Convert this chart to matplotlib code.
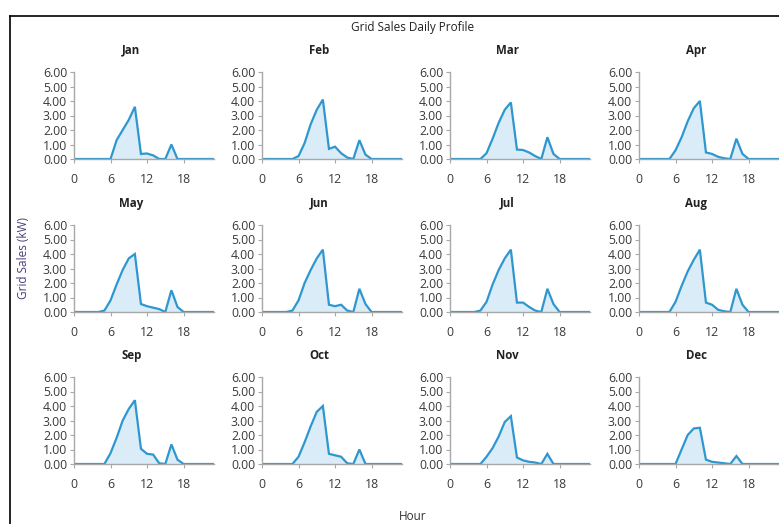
import matplotlib
matplotlib.use("Agg")
from matplotlib import pyplot as plt
from matplotlib.lines import Line2D

plt.rcParams['font.family'] = ['Open Sans', 'DejaVu Sans']

# hourly grid sales (kW), hours 0..23
hours = list(range(24))
months = ["Jan", "Feb", "Mar", "Apr", "May", "Jun",
          "Jul", "Aug", "Sep", "Oct", "Nov", "Dec"]

jan = [0, 0, 0, 0, 0, 0, 0, 1.3, 2.0, 2.7, 3.6, 0.35, 0.38, 0.25, 0, 0, 1.0, 0, 0, 0, 0, 0, 0, 0]
feb = [0, 0, 0, 0, 0, 0, 0.2, 1.1, 2.4, 3.4, 4.1, 0.7, 0.85, 0.4, 0.1, 0, 1.3, 0.3, 0, 0, 0, 0, 0, 0]
mar = [0, 0, 0, 0, 0, 0, 0.4, 1.4, 2.5, 3.4, 3.9, 0.65, 0.62, 0.45, 0.2, 0, 1.5, 0.35, 0, 0, 0, 0, 0, 0]
apr = [0, 0, 0, 0, 0, 0, 0.6, 1.5, 2.6, 3.5, 4.0, 0.45, 0.35, 0.15, 0.05, 0, 1.4, 0.35, 0, 0, 0, 0, 0, 0]
may = [0, 0, 0, 0, 0, 0.1, 0.8, 1.9, 2.9, 3.7, 4.0, 0.55, 0.4, 0.3, 0.2, 0, 1.5, 0.35, 0, 0, 0, 0, 0, 0]
jun = [0, 0, 0, 0, 0, 0.1, 0.8, 2.0, 2.9, 3.7, 4.3, 0.5, 0.4, 0.5, 0.1, 0, 1.6, 0.55, 0, 0, 0, 0, 0, 0]
jul = [0, 0, 0, 0, 0, 0.1, 0.7, 1.9, 2.9, 3.7, 4.3, 0.65, 0.65, 0.35, 0.1, 0, 1.6, 0.55, 0, 0, 0, 0, 0, 0]
aug = [0, 0, 0, 0, 0, 0, 0.7, 1.8, 2.8, 3.6, 4.3, 0.65, 0.5, 0.15, 0.05, 0, 1.6, 0.5, 0, 0, 0, 0, 0, 0]
sep = [0, 0, 0, 0, 0, 0, 0.75, 1.8, 3.0, 3.8, 4.4, 1.05, 0.7, 0.65, 0.05, 0, 1.35, 0.3, 0, 0, 0, 0, 0, 0]
oct_ = [0, 0, 0, 0, 0, 0, 0.5, 1.5, 2.6, 3.6, 4.0, 0.7, 0.6, 0.5, 0.05, 0, 1.0, 0, 0, 0, 0, 0, 0, 0]
nov = [0, 0, 0, 0, 0, 0, 0.5, 1.1, 1.9, 2.9, 3.3, 0.45, 0.25, 0.15, 0.1, 0, 0.7, 0, 0, 0, 0, 0, 0, 0]
dec = [0, 0, 0, 0, 0, 0, 0, 1.0, 2.0, 2.45, 2.5, 0.3, 0.15, 0.1, 0.05, 0, 0.55, 0, 0, 0, 0, 0, 0, 0]
profiles = [jan, feb, mar, apr, may, jun, jul, aug, sep, oct_, nov, dec]

x_ticks = [0, 6, 12, 18]
y_ticks = [0, 1, 2, 3, 4, 5, 6]

line_col = '#2F97CF'
fill_col = '#D9ECF7'
axis_col = '#A8A8A8'
text_col = '#3A3A3A'

W, H = 779, 524
fig = plt.figure(figsize=(W / 100, H / 100), dpi=100)

lefts = [74, 262, 450, 639]
bottoms = [159, 312, 464]
aw, ah = 140, 87

for i, (name, vals) in enumerate(zip(months, profiles)):
    r, c = divmod(i, 4)
    ax = fig.add_axes([lefts[c] / W, 1 - bottoms[r] / H, aw / W, ah / H])
    ax.fill_between(hours, vals, 0, color=fill_col, lw=0)
    ax.plot(hours, vals, color=line_col, lw=1.6, solid_joinstyle='miter')
    ax.set_xlim(0, 23)
    ax.set_ylim(0, 6)
    ax.set_xticks(x_ticks)
    ax.set_yticks(y_ticks)
    ax.set_yticklabels(['%.2f' % v for v in y_ticks])
    for s in ['top', 'right']:
        ax.spines[s].set_visible(False)
    for s in ['left', 'bottom']:
        ax.spines[s].set_color(axis_col)
        ax.spines[s].set_linewidth(1.0)
    ax.tick_params(axis='both', colors=axis_col, labelcolor=text_col,
                   labelsize=8.8, length=3, width=0.8)
    ax.tick_params(axis='x', pad=7)
    ax.tick_params(axis='y', pad=2)
    ax.text(0.41, 1.25, name, transform=ax.transAxes, ha='center', va='center',
            fontsize=8.3, fontweight='bold', color='#222222')

fig.text(413 / W, 1 - 27 / H, 'Grid Sales Daily Profile', ha='center', va='center',
         fontsize=8.5, color='#222222')
fig.text(413 / W, 1 - 517 / H, 'Hour', ha='center', va='center',
         fontsize=8.5, color='#333333')
fig.text(24 / W, 1 - 258 / H, 'Grid Sales (kW)', ha='center', va='center',
         rotation=90, fontsize=8.5, color='#4B3C78')

# document frame around the chart
fig.add_artist(Line2D([10 / W, 10 / W], [0, 1 - 16 / H], color='black', lw=1.2))
fig.add_artist(Line2D([10 / W, 1], [1 - 16 / H, 1 - 16 / H], color='black', lw=1.2))

fig.savefig('out.png', dpi=100)
